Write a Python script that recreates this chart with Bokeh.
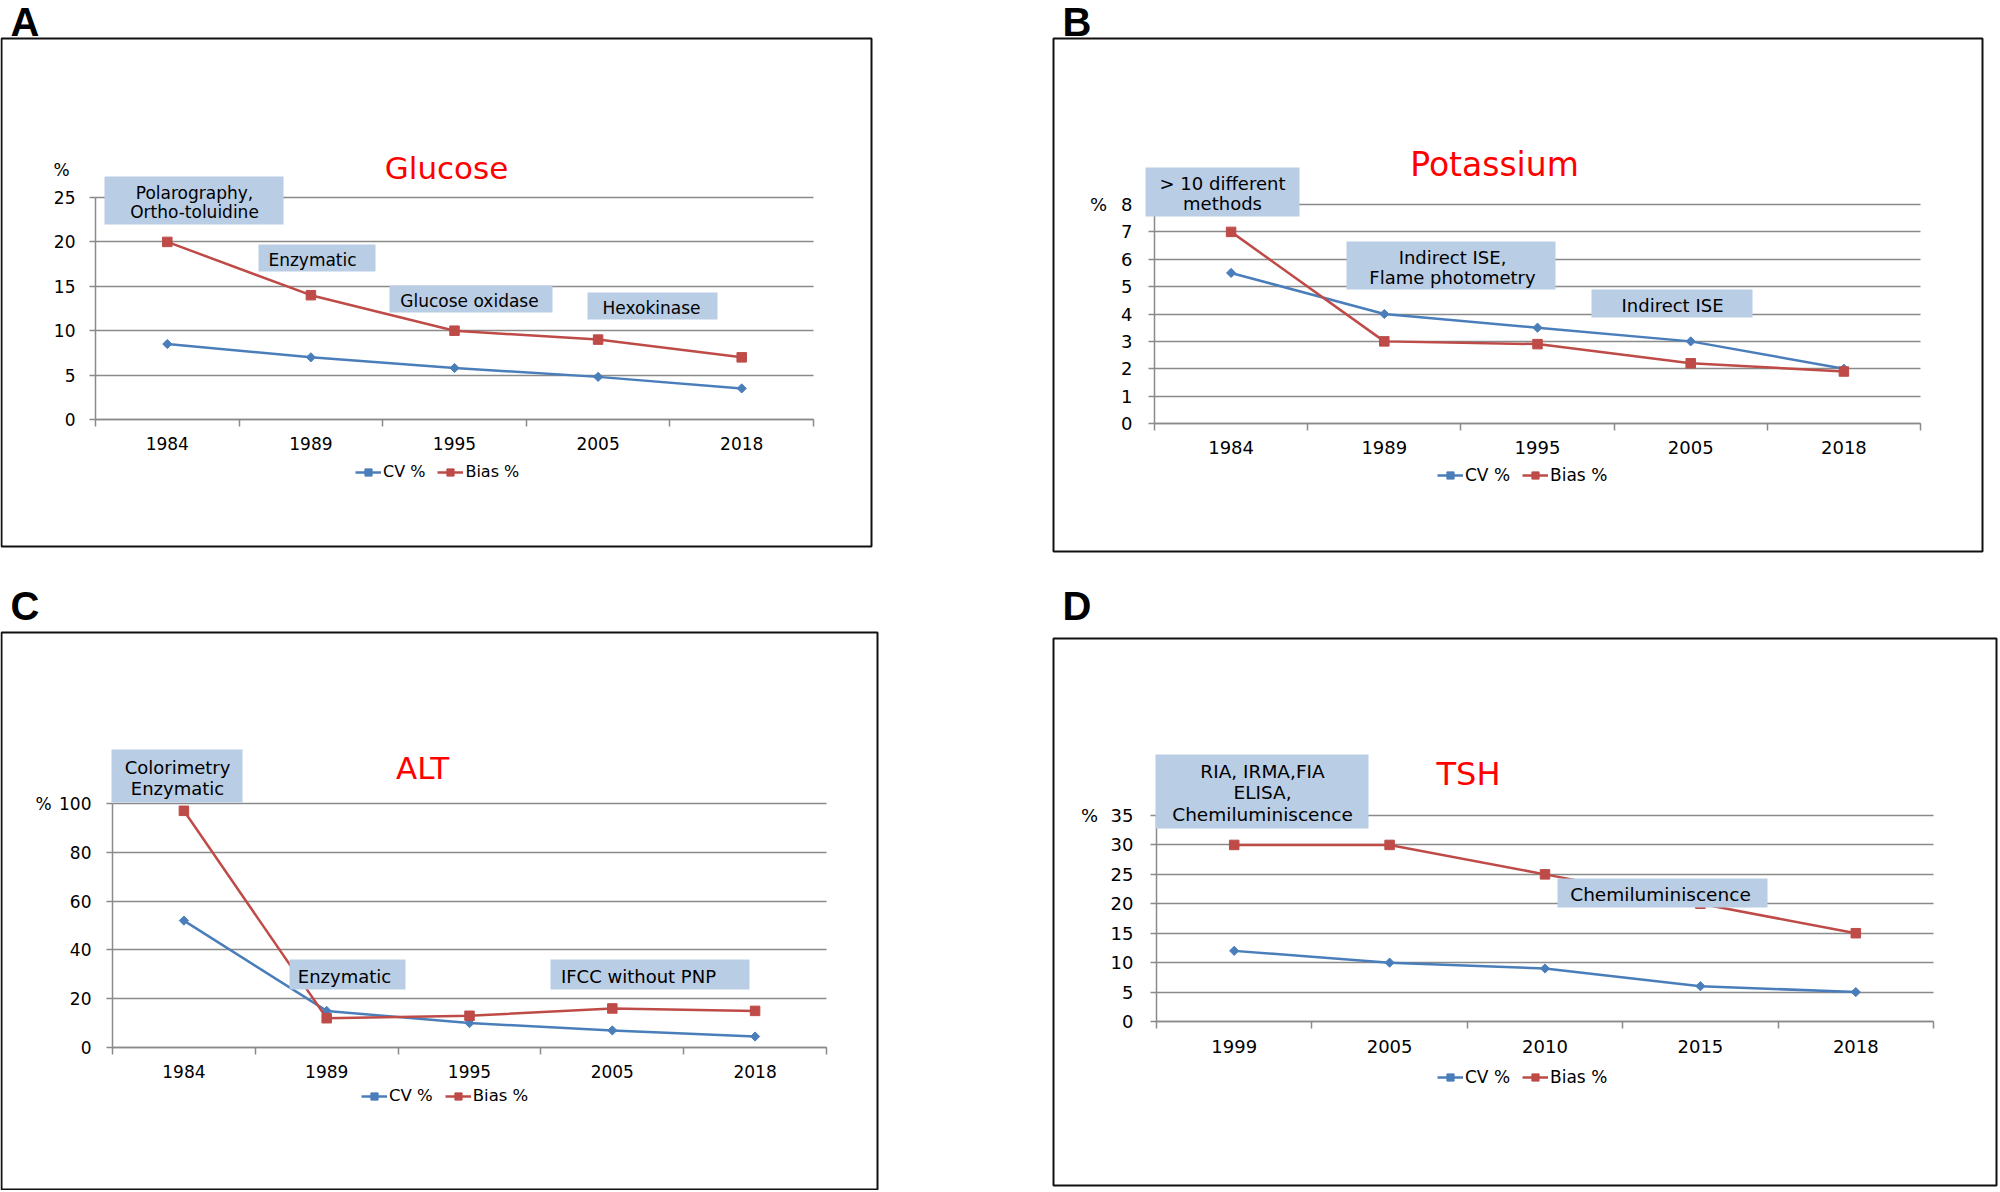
from bokeh.plotting import figure
from bokeh.models import Range1d, FixedTicker, BoxAnnotation, Label, Legend, LegendItem
from bokeh.layouts import row, column
from bokeh.embed import file_html
from bokeh.resources import INLINE

FONT = "DejaVu Sans"
LETTER_FONT = "Liberation Sans"
GREY = "#8a8a8a"
CV_COLOR = "#4A7EBB"
BIAS_COLOR = "#BE4B48"
NOTE_FILL = "#B9CDE5"
FRAME_COLOR = "#111111"

# ---------------- data ----------------
years_early = ["1984", "1989", "1995", "2005", "2018"]
years_tsh = ["1999", "2005", "2010", "2015", "2018"]

glucose_cv = [8.5, 7.0, 5.8, 4.8, 3.5]
glucose_bias = [20.0, 14.0, 10.0, 9.0, 7.0]
potassium_cv = [5.5, 4.0, 3.5, 3.0, 2.0]
potassium_bias = [7.0, 3.0, 2.9, 2.2, 1.9]
alt_cv = [52.0, 15.0, 10.0, 7.0, 4.5]
alt_bias = [97.0, 12.0, 13.0, 16.0, 15.0]
tsh_cv = [12.0, 10.0, 9.0, 6.0, 5.0]
tsh_bias = [30.0, 30.0, 25.0, 20.0, 15.0]

series_names = ["CV %", "Bias %"]
panel_letters = ["A", "B", "C", "D"]
panel_titles = ["Glucose", "Potassium", "ALT", "TSH"]

glucose_notes = ["Polarography,\nOrtho-toluidine", "Enzymatic", "Glucose oxidase", "Hexokinase"]
potassium_notes = ["> 10 different\nmethods", "Indirect ISE,\nFlame photometry", "Indirect ISE"]
alt_notes = ["Colorimetry\nEnzymatic", "Enzymatic", "IFCC without PNP"]
tsh_notes = ["RIA, IRMA,FIA\nELISA,\nChemiluminiscence", "Chemiluminiscence"]

# ---------------- layout (page pixel positions) ----------------
panels = [
    dict(letter=panel_letters[0], title=panel_titles[0], years=years_early, cv=glucose_cv, bias=glucose_bias,
         notes=glucose_notes, ymax=25, ystep=5,
         origin=(0, 0), size=(1045, 580), frame=(95, 813, 197, 419),
         box=(1, 871, 38, 546), letter_pos=(10, 21), title_pos=(446, 167), pct_pos=(61, 169),
         legend_pos=(355, 472),
         note_boxes=[(104, 283, 176, 224), (258, 375, 244, 271), (389, 552, 285, 312), (587, 717, 292, 319)],
         note_text=[(194, [192, 211]), (312, [259]), (469, [300]), (651, [307])],
         fs_tick=17, fs_note=17, fs_leg=16, fs_title=31, y_standoff=14, x_standoff=10),
    dict(letter=panel_letters[1], title=panel_titles[1], years=years_early, cv=potassium_cv, bias=potassium_bias,
         notes=potassium_notes, ymax=8, ystep=1,
         origin=(1045, 0), size=(953, 580), frame=(1154, 1920, 204, 423),
         box=(1053, 1982, 38, 551), letter_pos=(1062, 21), title_pos=(1494, 164), pct_pos=(1098, 204),
         legend_pos=(1437, 476),
         note_boxes=[(1145, 1299, 167, 216), (1346, 1555, 241, 289), (1591, 1752, 289, 317)],
         note_text=[(1222, [183, 203]), (1452, [257, 277]), (1672, [305])],
         fs_tick=18, fs_note=18, fs_leg=17, fs_title=33, y_standoff=16, x_standoff=10),
    dict(letter=panel_letters[2], title=panel_titles[2], years=years_early, cv=alt_cv, bias=alt_bias,
         notes=alt_notes, ymax=100, ystep=20,
         origin=(0, 580), size=(1045, 610), frame=(112, 826, 803, 1047),
         box=(1, 877, 632, 1189), letter_pos=(10, 605), title_pos=(422, 767), pct_pos=(43, 803),
         legend_pos=(361, 1096),
         note_boxes=[(111, 242, 749, 802), (289, 405, 959, 989), (550, 749, 959, 989)],
         note_text=[(177, [767, 788]), (344, [976]), (638, [976])],
         fs_tick=17, fs_note=18, fs_leg=16.5, fs_title=31, y_standoff=15, x_standoff=10),
    dict(letter=panel_letters[3], title=panel_titles[3], years=years_tsh, cv=tsh_cv, bias=tsh_bias,
         notes=tsh_notes, ymax=35, ystep=5,
         origin=(1045, 580), size=(953, 610), frame=(1156, 1933, 815, 1021),
         box=(1053, 1996, 638, 1185), letter_pos=(1062, 605), title_pos=(1468, 773), pct_pos=(1089, 815),
         legend_pos=(1437, 1078),
         note_boxes=[(1155, 1368, 754, 828), (1557, 1767, 878, 907)],
         note_text=[(1262, [771, 792, 814]), (1660, [894])],
         fs_tick=18, fs_note=18.5, fs_leg=17, fs_title=32, y_standoff=17, x_standoff=11),
]


def make_panel(c):
    ox, oy = c["origin"]
    W, H = c["size"]
    FL, FR, FT, FB = c["frame"]
    n = len(c["years"])
    ymax = c["ymax"]
    kx = (FR - FL) / n
    ky = (FB - FT) / ymax

    def sx(X):
        return X - ox

    def sy(Y):
        return oy + H - Y

    xs = [i + 0.5 for i in range(n)]

    p = figure(width=W, height=H, output_backend="svg", toolbar_location=None,
               x_range=Range1d(-(FL - ox) / kx, n + (ox + W - FR) / kx),
               y_range=Range1d(-(oy + H - FB) / ky, ymax + (FT - oy) / ky),
               min_border=0, min_border_left=0, min_border_right=0,
               min_border_top=0, min_border_bottom=0,
               background_fill_color="white", border_fill_color="white")
    p.outline_line_color = None
    p.title.visible = False
    p.xgrid.visible = False

    yticks = list(range(0, ymax + 1, c["ystep"]))
    yt = FixedTicker(ticks=yticks)

    ya = p.yaxis[0]
    ya.ticker = yt
    ya.fixed_location = 0
    ya.bounds = (0, ymax)
    ya.axis_line_color = GREY
    ya.axis_line_width = 1.5
    ya.major_tick_line_color = GREY
    ya.major_tick_line_width = 1.5
    ya.major_tick_out = 6
    ya.major_tick_in = 0
    ya.minor_tick_line_color = None
    ya.major_label_standoff = c["y_standoff"]
    ya.major_label_text_font = FONT
    ya.major_label_text_font_size = f"{c['fs_tick']}px"
    ya.major_label_text_color = "black"

    xa = p.xaxis[0]
    xa.ticker = FixedTicker(ticks=xs, minor_ticks=list(range(n + 1)))
    xa.major_label_overrides = {x: y for x, y in zip(xs, c["years"])}
    xa.fixed_location = 0
    xa.bounds = (0, n)
    xa.axis_line_color = GREY
    xa.axis_line_width = 1.5
    xa.major_tick_line_color = None
    xa.major_tick_out = 0
    xa.major_tick_in = 0
    xa.minor_tick_line_color = GREY
    xa.minor_tick_line_width = 1.5
    xa.minor_tick_out = 7
    xa.minor_tick_in = 0
    xa.major_label_standoff = c["x_standoff"]
    xa.major_label_text_font = FONT
    xa.major_label_text_font_size = f"{c['fs_tick']}px"
    xa.major_label_text_color = "black"

    g = p.ygrid[0]
    g.ticker = yt
    if "cross_bounds" in g.properties():
        g.bounds = (0, ymax)
        g.cross_bounds = (0, n)
        g.grid_line_color = GREY
        g.grid_line_width = 1.5
    else:
        g.visible = False
        p.segment(x0=[0] * len(yticks), x1=[n] * len(yticks), y0=yticks, y1=yticks,
                  line_color=GREY, line_width=1.5, level="underlay")

    # series
    l_cv = p.line(xs, c["cv"], line_color=CV_COLOR, line_width=2.5)
    s_cv = p.scatter(xs, c["cv"], marker="square", angle=0.785398, size=6.5,
                     fill_color=CV_COLOR, line_color=CV_COLOR)
    l_b = p.line(xs, c["bias"], line_color=BIAS_COLOR, line_width=2.5)
    s_b = p.scatter(xs, c["bias"], marker="square", size=9.5,
                    fill_color=BIAS_COLOR, line_color=BIAS_COLOR)

    # legend below the axis
    lx, ly = c["legend_pos"]
    gh = 18
    legend = Legend(items=[LegendItem(label=series_names[0], renderers=[l_cv, s_cv]),
                           LegendItem(label=series_names[1], renderers=[l_b, s_b])],
                    orientation="horizontal", location=(sx(lx), sy(ly) - gh / 2),
                    border_line_color=None, background_fill_alpha=0, padding=0, margin=0,
                    spacing=12, glyph_width=26, glyph_height=gh, label_height=gh,
                    label_standoff=2, label_text_font=FONT, label_text_color="black",
                    label_text_font_size=f"{c['fs_leg']}px")
    p.add_layout(legend)

    # panel frame
    bl, br, bt, bb = c["box"]
    p.add_layout(BoxAnnotation(left=sx(bl), right=sx(br), top=sy(bt), bottom=sy(bb),
                               left_units="screen", right_units="screen",
                               top_units="screen", bottom_units="screen",
                               fill_alpha=0, fill_color=None,
                               line_color=FRAME_COLOR, line_alpha=1.0, line_width=2))

    # method notes
    for (nl, nr, nt, nb) in c["note_boxes"]:
        p.add_layout(BoxAnnotation(left=sx(nl), right=sx(nr), top=sy(nt), bottom=sy(nb),
                                   left_units="screen", right_units="screen",
                                   top_units="screen", bottom_units="screen",
                                   fill_color=NOTE_FILL, fill_alpha=1, line_color=None))
    for note, (tx, tys) in zip(c["notes"], c["note_text"]):
        for line, ty in zip(note.split("\n"), tys):
            p.add_layout(Label(x=sx(tx), y=sy(ty), x_units="screen", y_units="screen", text=line,
                               text_font=FONT, text_font_size=f"{c['fs_note']}px", text_color="black",
                               text_align="center", text_baseline="middle"))

    # letter, title, percent sign
    lx0, ly0 = c["letter_pos"]
    p.add_layout(Label(x=sx(lx0), y=sy(ly0), x_units="screen", y_units="screen", text=c["letter"],
                       text_font=LETTER_FONT, text_font_style="bold", text_font_size="40px",
                       text_color="black", text_align="left", text_baseline="middle"))
    tx0, ty0 = c["title_pos"]
    p.add_layout(Label(x=sx(tx0), y=sy(ty0), x_units="screen", y_units="screen", text=c["title"],
                       text_font=FONT, text_font_size=f"{c['fs_title']}px", text_color="#FF0000",
                       text_align="center", text_baseline="middle"))
    px0, py0 = c["pct_pos"]
    p.add_layout(Label(x=sx(px0), y=sy(py0), x_units="screen", y_units="screen", text="%",
                       text_font=FONT, text_font_size=f"{c['fs_tick']}px", text_color="black",
                       text_align="center", text_baseline="middle"))
    return p


figs = [make_panel(c) for c in panels]
layout = column(row(figs[0], figs[1]), row(figs[2], figs[3]))

open("out.html", "w").write(file_html(layout, INLINE))
